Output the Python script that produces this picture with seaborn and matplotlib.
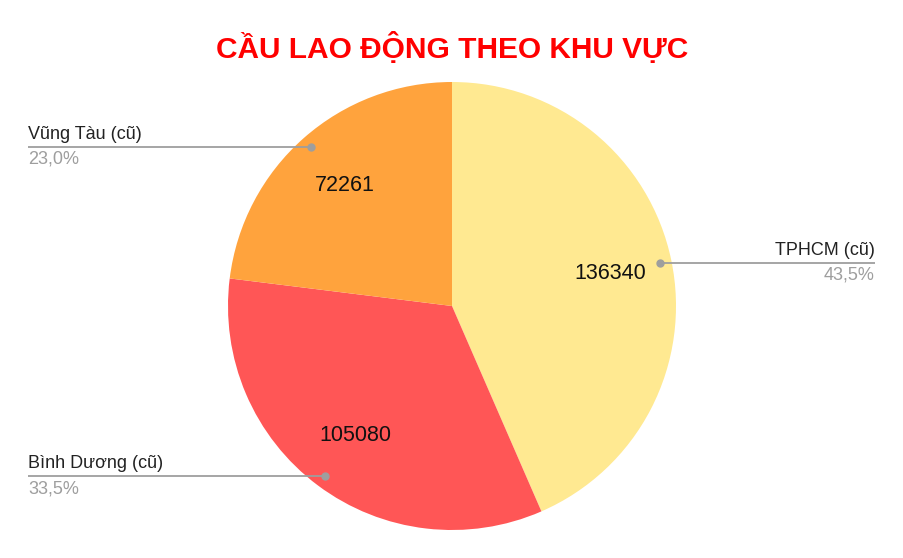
import numpy as np
import matplotlib
matplotlib.use("Agg")
import matplotlib.pyplot as plt
import seaborn as sns

# data
regions = ["TPHCM (cũ)", "Bình Dương (cũ)", "Vũng Tàu (cũ)"]
demand = [136340, 105080, 72261]
shares = ["43,5%", "33,5%", "23,0%"]
slice_colors = ["#FFE991", "#FF5656", "#FFA33D"]

sns.set_theme(style="white")
plt.rcParams["font.family"] = ["Liberation Sans", "DejaVu Sans"]

W, H = 904, 558
fig = plt.figure(figsize=(W / 100, H / 100), dpi=100)
ax = fig.add_axes([0, 0, 1, 1])
ax.set_xlim(0, W)
ax.set_ylim(0, H)
ax.axis("off")

cx, cy, r = 452, H - 306, 224
values = iter(demand)
ax.pie(demand, colors=sns.color_palette(slice_colors), startangle=90,
       counterclock=False, center=(cx, cy), radius=r, frame=False,
       autopct=lambda p: f"{next(values)}", pctdistance=0.72,
       textprops={"fontsize": 15.5, "color": "#111111"},
       wedgeprops={"linewidth": 0})
ax.set_xlim(0, W)
ax.set_ylim(0, H)
ax.set_aspect("auto")

# leader lines with name above and share below
total = sum(demand)
start = 90.0
line_color = "#9E9E9E"
for name, val, share in zip(regions, demand, shares):
    span = 360.0 * val / total
    mid = np.deg2rad(start - span / 2)
    start -= span
    px = cx + 0.95 * r * np.cos(mid)
    py = cy + 0.95 * r * np.sin(mid)
    if np.cos(mid) > 0:
        x_end, ha = 875, "right"
    else:
        x_end, ha = 28, "left"
    ax.plot([px, x_end], [py, py], color=line_color, lw=1.3,
            solid_capstyle="butt")
    ax.plot(px, py, "o", color=line_color, ms=5)
    ax.text(x_end, py + 4, name, ha=ha, va="bottom", fontsize=13,
            color="#222222")
    ax.text(x_end, py - 4, share, ha=ha, va="top", fontsize=13,
            color="#9E9E9E")

fig.text(0.5, 1 - 48 / H, "CẦU LAO ĐỘNG THEO KHU VỰC", ha="center",
         va="center", fontsize=21.5, fontweight="bold", color="#FF0000")

fig.savefig("out.png", dpi=100, facecolor="white")
